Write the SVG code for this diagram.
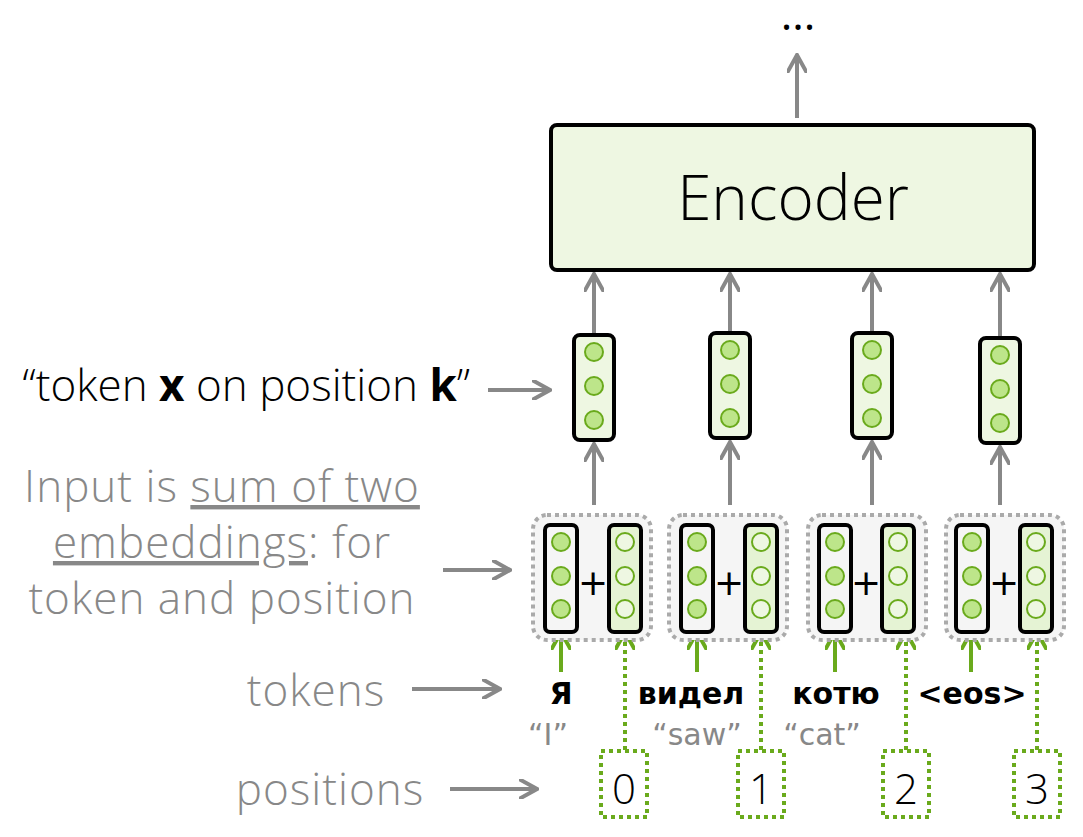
<svg xmlns="http://www.w3.org/2000/svg" width="1083" height="837" viewBox="0 0 1083 837">
<defs>
<marker id="ag" viewBox="0 0 10 10" refX="8" refY="5" markerWidth="5" markerHeight="5" orient="auto"><path d="M0,0 L9,5 L0,10" fill="none" stroke="#888" stroke-width="2"/></marker>
<marker id="agr" viewBox="0 0 10 10" refX="8" refY="5" markerWidth="5" markerHeight="5" orient="auto"><path d="M0,0 L9,5 L0,10" fill="none" stroke="#6aaa1c" stroke-width="2"/></marker>
</defs>
<style>
.g{stroke:#888;stroke-width:4;fill:none;marker-end:url(#ag)}
.gs{stroke:#6aaa1c;stroke-width:4;fill:none;marker-end:url(#agr)}
.gd{stroke:#6aaa1c;stroke-width:4;fill:none;stroke-dasharray:4 4;marker-end:url(#agr)}
.vec{fill:#eef7e2;stroke:#000;stroke-width:4}
.tv{fill:#f5f5f5;stroke:#000;stroke-width:4}
.pv{fill:#e5f3d4;stroke:#000;stroke-width:4}
.c{fill:#bde58a;stroke:#6aaa1c;stroke-width:2}
.cl{fill:#eef7e2;stroke:#6aaa1c;stroke-width:2}
.grp{fill:#f5f5f5;stroke:#aaa;stroke-width:4;stroke-dasharray:4 4}
.pb{fill:#fff;stroke:#6aaa1c;stroke-width:4;stroke-dasharray:4 4}
.t{font-family:"Open Sans","DejaVu Sans",sans-serif;font-weight:300}
.lab{font-family:"Open Sans","DejaVu Sans",sans-serif;font-weight:300;font-size:44px;letter-spacing:1px;fill:#888;text-anchor:middle}
.tok{font-family:"DejaVu Sans",sans-serif;font-weight:bold;font-size:30px;text-anchor:middle}
.tr{font-family:"DejaVu Sans",sans-serif;font-size:30px;fill:#888;text-anchor:middle}
.num{font-family:"Open Sans","DejaVu Sans",sans-serif;font-weight:300;font-size:42px;text-anchor:middle}
</style>
<g id="connectors">
<path class="g" d="M797,118 V57"/>
<path class="g" d="M594,335 V276"/><path class="g" d="M730,333 V276"/><path class="g" d="M872,333 V276"/><path class="g" d="M1000,338 V276"/>
<path class="g" d="M594,505 V446"/><path class="g" d="M730,505 V444"/><path class="g" d="M872,505 V444"/><path class="g" d="M1000,505 V449"/>
<path class="gs" d="M561,672 V634"/><path class="gs" d="M697,672 V634"/><path class="gs" d="M835,672 V634"/><path class="gs" d="M971,672 V634"/>
<path class="gd" d="M625,750 V634"/><path class="gd" d="M761,750 V634"/><path class="gd" d="M906,750 V634"/><path class="gd" d="M1037,750 V634"/>
<path class="g" d="M488,390 H548"/><path class="g" d="M443,570 H508"/><path class="g" d="M412,689 H498"/><path class="g" d="M450,789 H535"/>
</g>
<g id="dots"><text x="798" y="30" font-family="Open Sans, DejaVu Sans, sans-serif" font-size="44" text-anchor="middle">...</text></g>
<g id="encoder"><rect x="551" y="125" width="483" height="145" rx="6" fill="#eef7e2" stroke="#000" stroke-width="4"/>
<text x="793" y="220" class="t" font-size="62" text-anchor="middle">Encoder</text></g>
<g id="vectors">
<rect class="vec" x="574" y="335" width="40" height="105" rx="6"/><circle class="c" cx="594" cy="352" r="9"/><circle class="c" cx="594" cy="386" r="9"/><circle class="c" cx="594" cy="420" r="9"/>
<rect class="vec" x="710" y="333" width="40" height="105" rx="6"/><circle class="c" cx="730" cy="350" r="9"/><circle class="c" cx="730" cy="384" r="9"/><circle class="c" cx="730" cy="418" r="9"/>
<rect class="vec" x="852" y="333" width="40" height="105" rx="6"/><circle class="c" cx="872" cy="350" r="9"/><circle class="c" cx="872" cy="384" r="9"/><circle class="c" cx="872" cy="418" r="9"/>
<rect class="vec" x="980" y="338" width="40" height="105" rx="6"/><circle class="c" cx="1000" cy="355" r="9"/><circle class="c" cx="1000" cy="389" r="9"/><circle class="c" cx="1000" cy="423" r="9"/>
</g>
<g id="sums">
<rect class="grp" x="533" y="515" width="118" height="125" rx="14"/>
<rect class="grp" x="669" y="515" width="118" height="125" rx="14"/>
<rect class="grp" x="808" y="515" width="118" height="125" rx="14"/>
<rect class="grp" x="946" y="515" width="118" height="125" rx="14"/>
<g>
<rect class="tv" x="545" y="525" width="32" height="107" rx="5"/><circle class="c" cx="561" cy="542" r="9"/><circle class="c" cx="561" cy="576" r="9"/><circle class="c" cx="561" cy="609" r="9"/>
<rect class="pv" x="609" y="525" width="32" height="107" rx="5"/><circle class="cl" cx="625" cy="542" r="9"/><circle class="cl" cx="625" cy="576" r="9"/><circle class="cl" cx="625" cy="609" r="9"/>
<text x="593" y="595" font-family="DejaVu Sans, sans-serif" font-size="36" text-anchor="middle">+</text>
</g>
<g>
<rect class="tv" x="681" y="525" width="32" height="107" rx="5"/><circle class="c" cx="697" cy="542" r="9"/><circle class="c" cx="697" cy="576" r="9"/><circle class="c" cx="697" cy="609" r="9"/>
<rect class="pv" x="745" y="525" width="32" height="107" rx="5"/><circle class="cl" cx="761" cy="542" r="9"/><circle class="cl" cx="761" cy="576" r="9"/><circle class="cl" cx="761" cy="609" r="9"/>
<text x="729" y="595" font-family="DejaVu Sans, sans-serif" font-size="36" text-anchor="middle">+</text>
</g>
<g>
<rect class="tv" x="819" y="525" width="32" height="107" rx="5"/><circle class="c" cx="835" cy="542" r="9"/><circle class="c" cx="835" cy="576" r="9"/><circle class="c" cx="835" cy="609" r="9"/>
<rect class="pv" x="882" y="525" width="32" height="107" rx="5"/><circle class="cl" cx="898" cy="542" r="9"/><circle class="cl" cx="898" cy="576" r="9"/><circle class="cl" cx="898" cy="609" r="9"/>
<text x="866" y="595" font-family="DejaVu Sans, sans-serif" font-size="36" text-anchor="middle">+</text>
</g>
<g>
<rect class="tv" x="956" y="525" width="32" height="107" rx="5"/><circle class="c" cx="972" cy="542" r="9"/><circle class="c" cx="972" cy="576" r="9"/><circle class="c" cx="972" cy="609" r="9"/>
<rect class="pv" x="1020" y="525" width="32" height="107" rx="5"/><circle class="cl" cx="1036" cy="542" r="9"/><circle class="cl" cx="1036" cy="576" r="9"/><circle class="cl" cx="1036" cy="609" r="9"/>
<text x="1004" y="595" font-family="DejaVu Sans, sans-serif" font-size="36" text-anchor="middle">+</text>
</g>
</g>
<g id="tokens">
<text x="561" y="704" class="tok">Я</text><text x="691" y="704" class="tok">видел</text><text x="836" y="704" class="tok">котю</text><text x="972" y="704" class="tok">&lt;eos&gt;</text>
<text x="548" y="745" class="tr">“I”</text><text x="697" y="745" class="tr">“saw”</text><text x="822" y="745" class="tr">“cat”</text>
</g>
<g id="positions">
<rect class="pb" x="601" y="751" width="46" height="66"/><text x="624" y="804" class="num">0</text>
<rect class="pb" x="738" y="751" width="46" height="66"/><text x="761" y="804" class="num">1</text>
<rect class="pb" x="883" y="751" width="46" height="66"/><text x="906" y="804" class="num">2</text>
<rect class="pb" x="1014" y="751" width="46" height="66"/><text x="1037" y="804" class="num">3</text>
</g>
<g id="labels">
<text x="470" y="401" class="t" font-size="44" text-anchor="end">“token <tspan font-weight="bold">x</tspan> on position <tspan font-weight="bold">k</tspan>”</text>
<text class="lab"><tspan x="222" y="502">Input is <tspan text-decoration="underline">sum of two</tspan></tspan><tspan x="222" y="558"><tspan text-decoration="underline">embeddings</tspan>: for</tspan><tspan x="222" y="614">token and position</tspan></text>
<text x="316" y="706" class="lab">tokens</text>
<text x="330" y="805" class="lab">positions</text>
</g>
</svg>
